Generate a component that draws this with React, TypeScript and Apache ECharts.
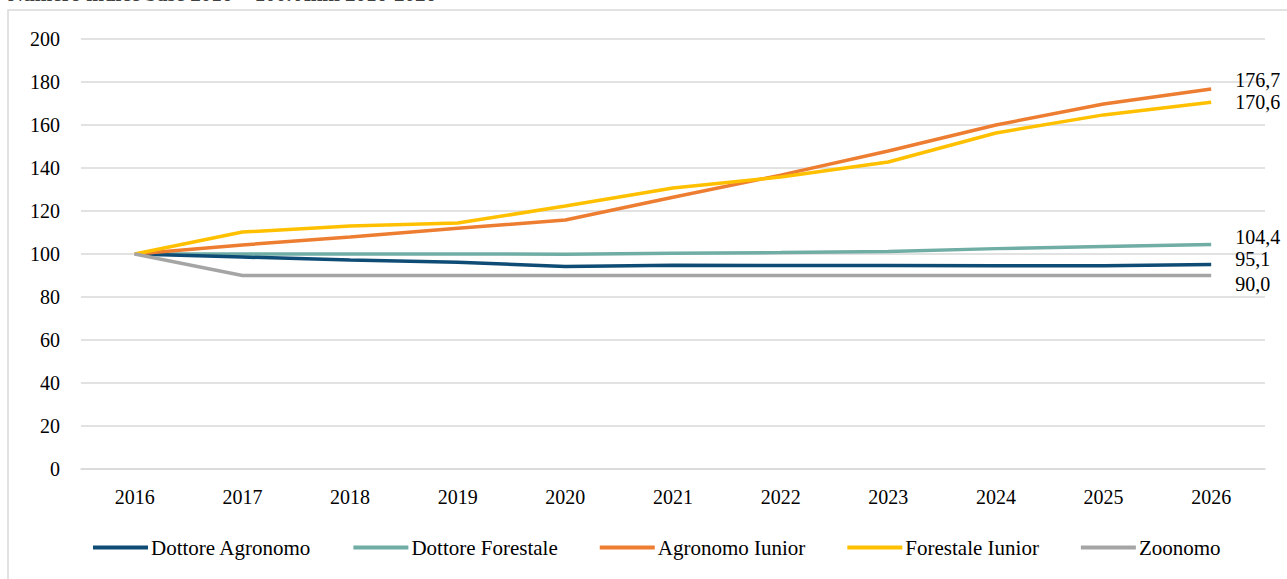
import React, { useEffect, useRef } from "react";
import * as echarts from "echarts";

const years = ["2016", "2017", "2018", "2019", "2020", "2021", "2022", "2023", "2024", "2025", "2026"];
const dottoreAgronomo = [100, 98.6, 97.2, 96.2, 94.2, 94.8, 94.6, 94.6, 94.5, 94.5, 95.1];
const dottoreForestale = [100, 100, 100, 100, 99.9, 100.3, 100.7, 101.2, 102.5, 103.5, 104.4];
const agronomoIunior = [100, 104.2, 107.9, 112, 115.8, 126.4, 136.7, 147.9, 160, 169.8, 176.7];
const forestaleIunior = [100, 110.2, 113, 114.4, 122.3, 130.7, 135.8, 142.8, 156.3, 164.7, 170.6];
const zoonomo = [100, 90, 90, 90, 90, 90, 90, 90, 90, 90, 90];
const seriesNames = ["Dottore Agronomo", "Dottore Forestale", "Agronomo Iunior", "Forestale Iunior", "Zoonomo"];
const seriesColors = ["#0f4c75", "#70ada5", "#ed7d31", "#ffc000", "#a5a5a5"];
const endLabelOffsets = [-6, -8, -9, 0, 8];
const titleText = "Numero indice base 2016 = 100. Anni 2016-2026 *";

const FONT = "'Liberation Serif', 'DejaVu Serif', serif";

export default function App() {
  const ref = useRef<HTMLDivElement>(null);
  useEffect(() => {
    if (!ref.current) return;
    const chart = echarts.init(ref.current, null, { renderer: "svg" });
    const allData = [dottoreAgronomo, dottoreForestale, agronomoIunior, forestaleIunior, zoonomo];
    chart.setOption({
      animation: false,
      textStyle: { fontFamily: FONT },
      graphic: [
        {
          type: "rect",
          shape: { x: 8, y: 10, width: 1400, height: 700 },
          style: { fill: "none", stroke: "#d9d9d9", lineWidth: 1.5 },
          silent: true,
        },
        {
          type: "text",
          x: 8,
          y: -17,
          style: { text: titleText, fontFamily: FONT, fontSize: 21, fontWeight: "bold", fill: "#404040" },
          silent: true,
        },
      ],
      grid: { left: 81, right: 22, top: 39, bottom: 110, containLabel: false },
      legend: {
        bottom: 16,
        left: 88,
        icon: "rect",
        itemWidth: 55,
        itemHeight: 4,
        itemGap: 42,
        textStyle: { fontFamily: FONT, fontSize: 21, color: "#000", padding: [0, 0, 0, -2] },
        data: seriesNames,
      },
      xAxis: {
        type: "category",
        data: years,
        boundaryGap: true,
        axisLine: { show: true, lineStyle: { color: "#d9d9d9", width: 1.5 } },
        axisTick: { show: false },
        axisLabel: { color: "#000", fontFamily: FONT, fontSize: 20, margin: 18 },
      },
      yAxis: {
        type: "value",
        min: 0,
        max: 200,
        interval: 20,
        axisLine: { show: false },
        axisTick: { show: false },
        splitLine: { lineStyle: { color: "#d9d9d9", width: 1.5 } },
        axisLabel: { color: "#000", fontFamily: FONT, fontSize: 20, margin: 21 },
      },
      series: seriesNames.map((name, i) => ({
        name,
        type: "line",
        data: allData[i],
        symbol: "none",
        lineStyle: { color: seriesColors[i], width: 3.5 },
        itemStyle: { color: seriesColors[i] },
        z: i === 1 ? 2 : 3,
        endLabel: {
          show: true,
          formatter: (p: any) => Number(p.value).toFixed(1).replace(".", ","),
          color: "#000",
          fontFamily: FONT,
          fontSize: 20,
          distance: 24,
          offset: [0, endLabelOffsets[i]],
        },
      })),
    });
    return () => chart.dispose();
  }, []);
  return <div ref={ref} style={{ position: "absolute", left: 0, top: 0, width: 1287, height: 579 }} />;
}
